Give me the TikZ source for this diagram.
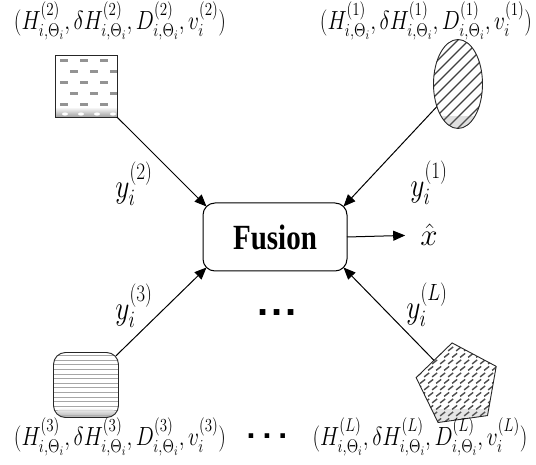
\RequirePackage{fix-cm}
\documentclass[tikz,border=0pt]{standalone}
\usepackage{fontspec}
\usepackage{amsmath}
\usepackage{graphicx}
\usetikzlibrary{arrows.meta,shapes.geometric,calc}
\newfontfamily\fusionfont{Liberation Serif}
\newfontfamily\dotfont{Liberation Sans}
\newcommand{\vstr}[1]{\scalebox{1}[1.22]{#1}}
\newcommand{\obs}[1]{\vstr{$(H^{(#1)}_{i,\Theta_i}, \delta H^{(#1)}_{i,\Theta_i}, D^{(#1)}_{i,\Theta_i}, v^{(#1)}_i)$}}
\newcommand{\meas}[1]{\vstr{$y_i^{(#1)}$}}

\begin{document}
\begin{tikzpicture}[x=1pt,y=-1pt,
  sensor/.style={draw=black!85, line width=0.9pt, inner sep=0pt, outer sep=0pt},
  link/.style={line width=1pt, -{Triangle[length=12pt,width=10pt]}},
  tuple/.style={inner sep=0pt, font=\fontsize{21.5}{24}\selectfont},
  lbl/.style={inner sep=0pt, font=\fontsize{27.5}{30}\selectfont}]
\useasboundingbox (0,0) rectangle (536,465);

% fusion centre
\node[draw, line width=1pt, rounded corners=12pt, minimum width=144pt,
      minimum height=68pt, inner sep=0pt, outer sep=0pt] (fus) at (275,237)
      {\fusionfont\bfseries\fontsize{29}{30}\selectfont\vstr{Fusion}};
\node[inner sep=0pt, font=\fontsize{31}{33}\selectfont] (xh) at (429,235) {$\hat{x}$};
\draw[link, shorten >=15pt] (fus.east) -- (xh.west);

% sensor 2: square with brick dots
\node[sensor, rectangle, minimum size=62pt, path picture={
  \fill[white] (path picture bounding box.south west) rectangle (path picture bounding box.north east);
  \foreach \row/\dx in {0/0,1/10,2/0,3/10,4/0}
    \foreach \col in {0,1,2}
      \fill[gray!85] ([shift={(\dx+5+20*\col, 4+11*\row)}]path picture bounding box.north west) rectangle ++(8,3.5);
  \shade[top color=white, bottom color=gray!75] ([shift={(0,52)}]path picture bounding box.north west) rectangle (path picture bounding box.south east);
  \foreach \col in {0,1,2,3}
    \fill[white] ([shift={(10+16*\col, 59)}]path picture bounding box.north west) ellipse (3 and 1.6);
}] (s2) at (86,86) {};

% sensor 1: hatched ellipse
\node[sensor, ellipse, minimum width=49pt, minimum height=89pt, path picture={
  \fill[white] (path picture bounding box.south west) rectangle (path picture bounding box.north east);
  \foreach \k in {-9,...,9}
    \draw[line width=1.3pt, black!75] ([shift={(\k*11-60, 60)}]path picture bounding box.center) -- ++(120,-120);
  \fill[gray, opacity=0.25] ([shift={(0,-12)}]path picture bounding box.south west) rectangle (path picture bounding box.south east);
}] (s1) at (458,84) {};

% sensor 3: rounded square with horizontal lines
\node[sensor, rectangle, rounded corners=12pt, minimum size=65pt, path picture={
  \fill[white] (path picture bounding box.south west) rectangle (path picture bounding box.north east);
  \foreach \k in {0,...,13}
    \draw[gray!70, line width=0.8pt] ([shift={(0,3+4.6*\k)}]path picture bounding box.north west) -- ++(70,0);
  \shade[top color=white, bottom color=gray!80, opacity=0.8] ([shift={(0,55)}]path picture bounding box.north west) rectangle (path picture bounding box.south east);
}] (s3) at (86,385) {};

% sensor L: pentagon with slanted dashes
\node[sensor, regular polygon, regular polygon sides=5, minimum size=85pt,
      shape border rotate=8, path picture={
  \fill[white] (path picture bounding box.south west) rectangle (path picture bounding box.north east);
  \foreach \r in {0,...,13}
    \foreach \c in {0,...,11} {
      \pgfmathsetmacro{\px}{\c*8+mod(\r,2)*4}
      \pgfmathsetmacro{\py}{\r*6.5+8}
      \draw[gray!60!black, line width=1.4pt] ([shift={(\px,\py)}]path picture bounding box.north west) -- ++(5,-4);
    }
  \fill[gray, opacity=0.2] ([shift={(0,-14)}]path picture bounding box.south west) rectangle (path picture bounding box.south east);
}] (sL) at (458,385) {};

% connection points on the rounded corners of the fusion box
\coordinate (fnw) at ($(fus.north west)+(3.5,3.5)$);
\coordinate (fne) at ($(fus.north east)+(-3.5,3.5)$);
\coordinate (fsw) at ($(fus.south west)+(3.5,-3.5)$);
\coordinate (fse) at ($(fus.south east)+(-3.5,-3.5)$);

\draw[link] (s2) -- (fnw);
\draw[link] (s1) -- (fne);
\draw[link, shorten <=-3.5pt] (s3) -- (fsw);
\draw[link] (sL) -- (fse);

% measurement labels
\node[lbl] (y2) at (134,184) {\meas{2}};
\node[lbl] (y1) at (429,183) {\meas{1}};
\node[lbl] (y3) at (134,306) {\meas{3}};
\node[lbl] (yL) at (427,305) {\meas{L}};

% local estimates
\node[tuple] (t2) at (120,21) {\obs{2}};
\node[tuple] (t1) at (426,21) {\obs{1}};
\node[tuple] (t3) at (120,437) {\obs{3}};
\node[tuple] (tL) at (420,437) {\obs{L}};

% ellipses
\node[inner sep=0pt] (dm) at (277,313) {\dotfont\bfseries\fontsize{40}{40}\selectfont .\kern3pt.\kern3pt.};
\node[inner sep=0pt] (db) at (267,436) {\dotfont\bfseries\fontsize{32}{32}\selectfont .\kern7pt.\kern7pt.};
\end{tikzpicture}
\end{document}
